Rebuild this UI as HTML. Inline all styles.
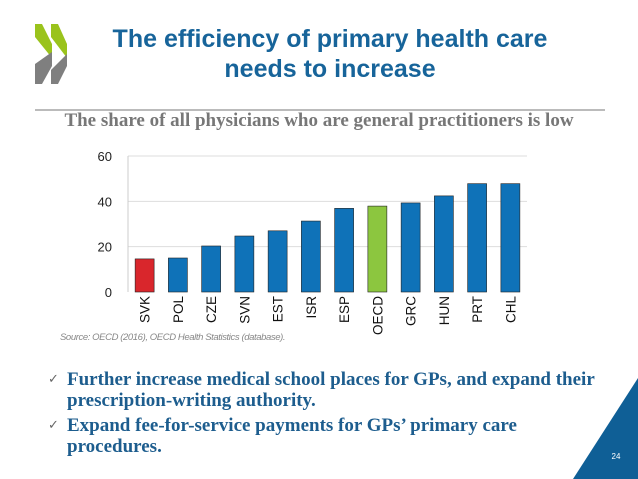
<!DOCTYPE html>
<html><head><meta charset="utf-8"><style>
body{margin:0;width:638px;height:479px;background:#fff;overflow:hidden;position:relative;font-family:"Liberation Sans",sans-serif}
.abs{position:absolute}
</style></head><body>
<svg class="abs" style="left:0;top:0" width="638" height="479">
 <g>
  <polygon points="35,24 42,24 52,44 52,58 35,37" fill="#9ac31c"/>
  <polygon points="35,64 52,52 52,66 42,84 35,84" fill="#7f7f7f"/>
  <polygon points="51,24 58,24 67,44 67,58 51,37" fill="#9ac31c"/>
  <polygon points="51,84 51,70 67,54 67,66 58,84" fill="#7f7f7f"/>
 </g>
 <line x1="35" y1="110" x2="605" y2="110" stroke="#777" stroke-width="1"/>
 <polygon points="573,479 638,479 638,378" fill="#0f5f96"/>
 <text x="616" y="459" font-size="8" fill="#fff" text-anchor="middle">24</text>
 <g id="chart"></g>
</svg>
<div class="abs" style="left:60px;top:24px;width:540px;text-align:center;color:#17649a;font-weight:bold;font-size:25px;line-height:30px">The efficiency of primary health care<br>needs to increase</div>
<div class="abs" style="left:0;top:110px;width:638px;text-align:center;color:#777;font-family:'Liberation Serif',serif;font-weight:bold;font-size:19px;white-space:nowrap">The share of all physicians who are general practitioners is low</div>
<div class="abs" style="left:60px;top:332px;color:#888;font-style:italic;font-size:9.5px;letter-spacing:-0.4px">Source: OECD (2016), OECD Health Statistics (database).</div>
<div class="abs" style="left:48px;top:369px;width:590px;color:#1d5d8e;font-family:'Liberation Serif',serif;font-weight:bold;font-size:19px;line-height:21px;white-space:nowrap">
 <div style="position:relative;padding-left:19px;margin-bottom:4px"><span style="position:absolute;left:0;color:#666;font-weight:normal;font-family:'DejaVu Sans';font-size:13px">✓</span>Further increase medical school places for GPs, and expand their<br>prescription-writing authority.</div>
 <div style="position:relative;padding-left:19px"><span style="position:absolute;left:0;color:#666;font-weight:normal;font-family:'DejaVu Sans';font-size:13px">✓</span>Expand fee-for-service payments for GPs’ primary care<br>procedures.</div>
</div>
<script>
const categories=["SVK","POL","CZE","SVN","EST","ISR","ESP","OECD","GRC","HUN","PRT","CHL"];
const values=[14.6,15,20.3,24.7,27,31.3,36.9,37.9,39.3,42.4,47.8,47.8];
const ticks=[0,20,40,60];
const NS="http://www.w3.org/2000/svg";
const g=document.getElementById('chart');
const x0=128,x1=527,yTop=156,yBot=292,yMax=60;
const y=v=>yBot-(v/yMax)*(yBot-yTop);
const step=(x1-x0)/categories.length;
function mk(t,a){const e=document.createElementNS(NS,t);for(const k in a)e.setAttribute(k,a[k]);g.appendChild(e);return e;}
ticks.forEach(t=>{
 if(t>0){const l=mk('line',{x1:x0,x2:x1,y1:y(t),y2:y(t),stroke:'#ddd','stroke-width':1});
 
 }
 const tx=mk('text',{x:x0-16,y:y(t)+5,'font-size':13,'text-anchor':'end',fill:'#222'});
 tx.textContent=t;
 
 
});
const ax=mk('line',{x1:x0,x2:x0,y1:yTop,y2:yBot,stroke:'#ccc','stroke-width':1});


categories.forEach((c,i)=>{
 const cx=x0+step*(i+0.5);
 const col=c==='SVK'?'#d9262c':c==='OECD'?'#8cc63f':'#0f72b8';
 const r=mk('rect',{x:cx-9.5,y:y(values[i]),width:19,height:yBot-y(values[i]),fill:col,stroke:'#222','stroke-width':0.6});
 
 
 const t=mk('text',{x:0,y:0,'font-size':13.5,'text-anchor':'end',fill:'#111',transform:`translate(${cx+5},296) rotate(-90)`});
 t.textContent=c;
 
 
});
</script>
</body></html>
